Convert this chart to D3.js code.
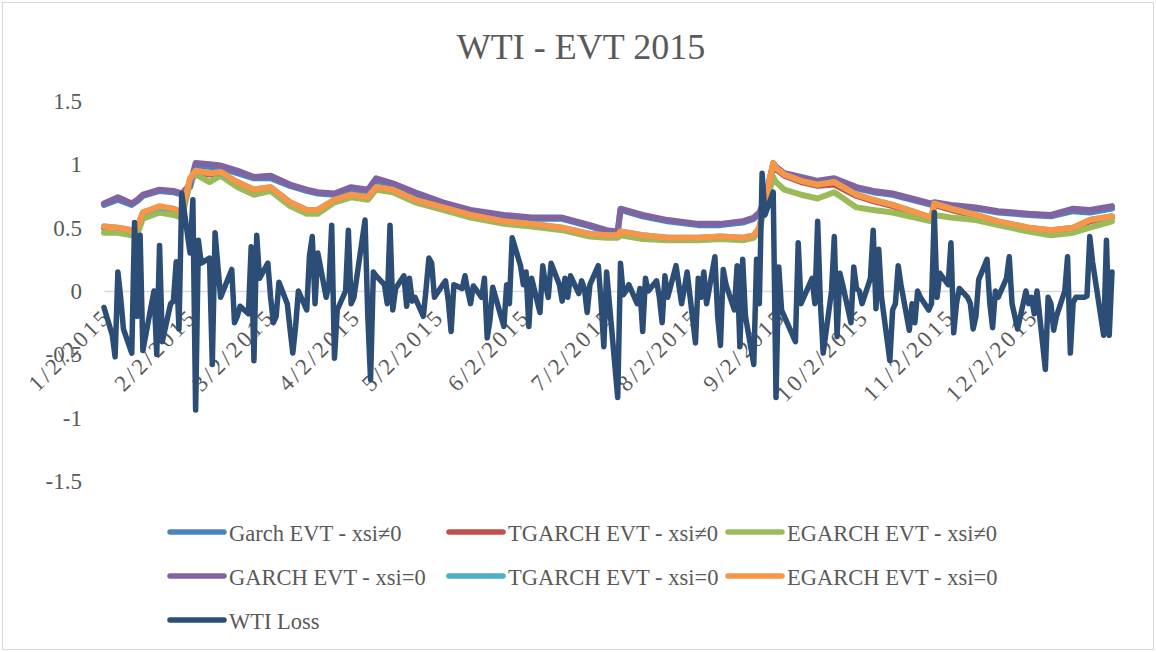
<!DOCTYPE html>
<html>
<head>
	<meta charset="utf-8">
	<title>WTI - EVT 2015</title>
	<script src="https://cdn.jsdelivr.net/npm/d3@7"></script>
	<style>
		body { margin: 0; background: #fff; }
		text { font-family: "Liberation Serif", "DejaVu Serif", serif; fill: #595959; }
	</style>
</head>
<body>
<script>
	// trading calendar 2015 (NYMEX holidays removed)
	var holidays = ["2015-01-19", "2015-02-16", "2015-04-03", "2015-05-25",
		"2015-07-03", "2015-09-07", "2015-11-26", "2015-12-25"];

	var xTickLabels = ["1/2/2015", "2/2/2015", "3/2/2015", "4/2/2015", "5/2/2015", "6/2/2015",
		"7/2/2015", "8/2/2015", "9/2/2015", "10/2/2015", "11/2/2015", "12/2/2015"];
	var yTicks = [-1.5, -1, -0.5, 0, 0.5, 1, 1.5];

	// daily WTI loss, one row per month
	var wtiLoss = [
		-0.13, -0.35, -0.52, 0.15, -0.05, -0.30, -0.49, 0.54, -0.20, 0.44, -0.47, 0.00, -0.50, 0.36, -0.40, -0.10, -0.08, 0.23, -0.30, 0.77,
		0.30, 0.72, -0.94, 0.40, 0.22, 0.26, -0.58, 0.46, 0.20, -0.05, 0.17, -0.25, -0.20, -0.12, -0.18, 0.35, -0.55, 0.44, 0.10,
		0.22, -0.05, -0.25, -0.20, 0.07, -0.10, -0.30, -0.49, -0.28, 0.00, -0.15, 0.28, 0.43, -0.10, 0.30, -0.05, 0.05, 0.52, -0.53, -0.15, 0.00, 0.48,
		-0.10, -0.05, 0.56, -0.20, -0.70, 0.15, 0.12, 0.05, -0.10, 0.52, -0.15, 0.02, 0.12, -0.12, 0.10, -0.08, -0.05, -0.20, 0.02, 0.26, 0.22,
		-0.05, 0.05, 0.08, -0.08, -0.32, 0.05, 0.02, 0.12, 0.00, -0.10, 0.04, -0.05, 0.10, -0.37, -0.23, 0.03, -0.28, 0.05, -0.10, 0.42,
		0.20, 0.05, 0.15, -0.28, 0.10, -0.17, 0.20, 0.05, -0.05, 0.22, 0.05, -0.08, 0.10, -0.05, 0.12, -0.02, 0.08, 0.02, -0.17, 0.05, 0.20, -0.08,
		-0.44, 0.15, -0.84, 0.22, -0.03, 0.00, 0.05, -0.10, 0.02, -0.32, 0.10, 0.00, 0.08, -0.05, -0.25, 0.12, -0.05, 0.20, 0.05, -0.10, 0.02, 0.15,
		-0.41, 0.10, -0.05, 0.15, -0.10, 0.27, -0.20, -0.43, 0.17, 0.05, -0.15, 0.20, -0.44, 0.25, -0.20, -0.58, 0.25, -0.10, 0.93, 0.60, 0.78,
		-0.84, 0.19, -0.15, -0.20, -0.40, 0.38, -0.10, -0.05, 0.10, -0.10, 0.55, -0.10, -0.49, 0.00, 0.43, -0.36, 0.14, 0.05, -0.25, 0.19, 0.02,
		0.00, -0.10, 0.10, 0.48, -0.14, 0.33, -0.05, -0.55, -0.15, -0.10, 0.20, 0.05, -0.31, -0.10, -0.25, 0.00, -0.05, -0.15, -0.10, 0.62, -0.05, 0.14,
		0.05, 0.38, -0.33, -0.10, 0.02, -0.05, -0.10, -0.30, -0.20, 0.09, 0.25, -0.10, -0.29, 0.00, -0.05, 0.10, 0.27, -0.10, -0.30, 0.00,
		-0.10, -0.05, -0.18, 0.00, -0.62, -0.05, -0.10, -0.31, -0.20, 0.00, 0.27, -0.49, -0.09, -0.05, -0.05, -0.04, 0.43, 0.23, -0.35, 0.40, -0.35, 0.15
	];

	// dates at which the VaR curves are read
	var varDates = [
		"2015-01-02", "2015-01-07", "2015-01-12", "2015-01-14", "2015-01-16", "2015-01-22", "2015-01-27", "2015-01-30",
		"2015-02-02", "2015-02-04", "2015-02-09", "2015-02-13", "2015-02-19", "2015-02-25",
		"2015-03-03", "2015-03-10", "2015-03-16", "2015-03-20", "2015-03-26",
		"2015-04-01", "2015-04-07", "2015-04-10", "2015-04-16", "2015-04-24",
		"2015-05-04", "2015-05-14", "2015-05-26",
		"2015-06-05", "2015-06-16", "2015-06-26",
		"2015-07-02", "2015-07-06", "2015-07-07", "2015-07-15", "2015-07-24",
		"2015-08-04", "2015-08-12", "2015-08-20", "2015-08-24", "2015-08-26", "2015-08-28", "2015-08-31",
		"2015-09-01", "2015-09-04", "2015-09-10", "2015-09-16", "2015-09-22", "2015-09-30",
		"2015-10-06", "2015-10-13", "2015-10-27", "2015-10-28",
		"2015-11-03", "2015-11-12", "2015-11-20",
		"2015-12-01", "2015-12-09", "2015-12-17", "2015-12-23", "2015-12-31"
	];

	var garchXsi = [0.68, 0.72, 0.68, 0.71, 0.75, 0.79, 0.78, 0.76, 0.82, 0.99, 0.98, 0.97, 0.93, 0.89,
		0.89, 0.83, 0.79, 0.77, 0.76, 0.80, 0.79, 0.87, 0.84, 0.77, 0.69, 0.63, 0.59, 0.57, 0.57, 0.51,
		0.47, 0.46, 0.64, 0.59, 0.55, 0.52, 0.52, 0.54, 0.57, 0.61, 0.71, 0.99,
		0.97, 0.92, 0.89, 0.86, 0.87, 0.81, 0.78, 0.76, 0.68, 0.69, 0.67, 0.65, 0.62, 0.60, 0.59, 0.63, 0.62, 0.65];
	var tgarchXsi = [0.50, 0.49, 0.47, 0.49, 0.61, 0.66, 0.64, 0.61, 0.87, 0.94, 0.92, 0.92, 0.85, 0.79,
		0.81, 0.69, 0.63, 0.63, 0.71, 0.75, 0.73, 0.81, 0.79, 0.71, 0.65, 0.59, 0.54, 0.52, 0.49, 0.44,
		0.43, 0.43, 0.46, 0.43, 0.41, 0.41, 0.42, 0.41, 0.43, 0.49, 0.69, 0.99,
		0.96, 0.91, 0.86, 0.83, 0.84, 0.75, 0.71, 0.67, 0.57, 0.68, 0.64, 0.59, 0.54, 0.49, 0.47, 0.49, 0.55, 0.58];
	var egarchXsi = [0.46, 0.46, 0.44, 0.45, 0.57, 0.62, 0.60, 0.58, 0.86, 0.92, 0.86, 0.91, 0.82, 0.76,
		0.79, 0.67, 0.61, 0.61, 0.70, 0.74, 0.72, 0.80, 0.78, 0.70, 0.64, 0.58, 0.53, 0.51, 0.48, 0.43,
		0.42, 0.42, 0.44, 0.41, 0.40, 0.40, 0.41, 0.40, 0.42, 0.48, 0.66, 0.90,
		0.86, 0.80, 0.76, 0.73, 0.78, 0.66, 0.64, 0.62, 0.55, 0.60, 0.58, 0.56, 0.52, 0.47, 0.44, 0.46, 0.50, 0.55];
	var garchZero = [0.69, 0.74, 0.69, 0.72, 0.76, 0.80, 0.79, 0.77, 0.84, 1.01, 1.00, 0.99, 0.95, 0.90,
		0.91, 0.84, 0.80, 0.78, 0.77, 0.82, 0.80, 0.89, 0.85, 0.78, 0.70, 0.64, 0.60, 0.58, 0.58, 0.52,
		0.48, 0.47, 0.65, 0.60, 0.56, 0.53, 0.53, 0.55, 0.58, 0.62, 0.72, 1.01,
		0.98, 0.93, 0.90, 0.87, 0.89, 0.82, 0.79, 0.77, 0.69, 0.70, 0.68, 0.66, 0.63, 0.61, 0.60, 0.65, 0.64, 0.67];
	var tgarchZero = [0.51, 0.50, 0.48, 0.50, 0.62, 0.66, 0.65, 0.62, 0.88, 0.95, 0.93, 0.93, 0.86, 0.80,
		0.82, 0.70, 0.64, 0.64, 0.72, 0.76, 0.74, 0.82, 0.80, 0.72, 0.66, 0.60, 0.55, 0.53, 0.50, 0.45,
		0.44, 0.44, 0.47, 0.44, 0.42, 0.42, 0.43, 0.42, 0.44, 0.50, 0.70, 1.00,
		0.97, 0.92, 0.87, 0.84, 0.86, 0.76, 0.72, 0.68, 0.58, 0.69, 0.65, 0.60, 0.55, 0.50, 0.48, 0.50, 0.56, 0.59];
	var egarchZero = [0.51, 0.50, 0.48, 0.50, 0.62, 0.67, 0.65, 0.62, 0.89, 0.95, 0.93, 0.94, 0.86, 0.80,
		0.82, 0.70, 0.64, 0.64, 0.72, 0.76, 0.74, 0.82, 0.80, 0.72, 0.66, 0.60, 0.55, 0.53, 0.50, 0.45,
		0.44, 0.44, 0.47, 0.44, 0.42, 0.42, 0.43, 0.42, 0.44, 0.50, 0.70, 1.01,
		0.97, 0.92, 0.87, 0.84, 0.86, 0.76, 0.72, 0.68, 0.58, 0.69, 0.65, 0.60, 0.55, 0.50, 0.48, 0.50, 0.56, 0.59];

	var seriesNames = ["Garch EVT - xsi≠0", "TGARCH EVT - xsi≠0", "EGARCH EVT - xsi≠0",
		"GARCH EVT - xsi=0", "TGARCH EVT - xsi=0", "EGARCH EVT - xsi=0", "WTI Loss"];
	var seriesColors = ["#4f81bd", "#c0504d", "#9bbb59", "#8064a2", "#4bacc6", "#f79646", "#2c4d75"];

	var svgWidth = 1156, svgHeight = 652;
	var parse = d3.timeParse("%Y-%m-%d"),
		fmt = d3.timeFormat("%Y-%m-%d");

	var tradingDays = d3.timeDay.range(new Date(2015, 0, 2), new Date(2016, 0, 1))
		.filter(function(d) { return d.getDay() % 6 !== 0 && holidays.indexOf(fmt(d)) < 0; });

	var vDates = varDates.map(parse);
	var series = [garchXsi, tgarchXsi, egarchXsi, garchZero, tgarchZero, egarchZero].map(function(vals) {
		return vals.map(function(v, i) { return {date: vDates[i], value: v}; });
	});
	series.push(wtiLoss.map(function(v, i) { return {date: tradingDays[i], value: v}; })
		.filter(function(d) { return d.date; }));

	var svg = d3.select("body").append("svg")
		.attr("width", svgWidth)
		.attr("height", svgHeight);

	// chart border
	svg.append("rect")
		.attr("x", 2.5).attr("y", 2.5)
		.attr("width", svgWidth - 5).attr("height", svgHeight - 5)
		.attr("fill", "none").attr("stroke", "#d9d9d9").attr("stroke-width", 1);

	var x = d3.scaleTime()
		.domain([new Date(2015, 0, 2), new Date(2015, 11, 31)])
		.range([104, 1112]);
	var y = d3.scaleLinear().domain([-1.5, 1.5]).range([481, 101]);

	svg.append("text")
		.attr("x", 581).attr("y", 59)
		.attr("text-anchor", "middle")
		.style("font-size", "36px")
		.text("WTI - EVT 2015");

	// y axis labels, no line
	var yAxis = svg.append("g")
		.attr("transform", "translate(104,0)")
		.call(d3.axisLeft(y).tickValues(yTicks).tickSize(0).tickPadding(22)
			.tickFormat(function(d) { return String(d); }));
	yAxis.select(".domain").remove();
	yAxis.selectAll("text").style("font-size", "23px").attr("fill", "#595959");

	// x axis crosses at zero
	var tickDates = xTickLabels.map(d3.timeParse("%m/%d/%Y"));
	var xAxis = svg.append("g")
		.attr("transform", "translate(0," + y(0) + ")")
		.call(d3.axisBottom(x).tickValues(tickDates).tickSize(0)
			.tickFormat(function(d, i) { return xTickLabels[i]; }));
	xAxis.select(".domain").attr("stroke", "#d9d9d9").attr("stroke-width", 1.5);
	xAxis.selectAll("text")
		.attr("x", 0).attr("y", 0).attr("dy", 0)
		.attr("text-anchor", "end")
		.attr("transform", "translate(8,27) rotate(-45)")
		.style("font-size", "23px")
		.style("letter-spacing", "3px")
		.attr("fill", "#595959");

	var line = d3.line()
		.x(function(d) { return x(d.date); })
		.y(function(d) { return y(d.value); });

	var plot = svg.append("g");
	plot.selectAll("path")
		.data(series)
		.enter()
		.append("path")
		.attr("d", line)
		.attr("fill", "none")
		.attr("stroke", function(d, i) { return seriesColors[i]; })
		.attr("stroke-width", function(d, i) { return i === 6 ? 5.5 : 6; })
		.attr("stroke-linejoin", "round")
		.attr("stroke-linecap", "round");

	// legend, three per row
	var legend = svg.append("g");
	var item = legend.selectAll("g")
		.data(seriesNames)
		.enter()
		.append("g")
		.attr("transform", function(d, i) {
			return "translate(" + (170 + (i % 3) * 279) + "," + (532 + Math.floor(i / 3) * 44) + ")";
		});
	item.append("line")
		.attr("x1", 0).attr("x2", 54)
		.attr("stroke", function(d, i) { return seriesColors[i]; })
		.attr("stroke-width", 5.5)
		.attr("stroke-linecap", "round");
	item.append("text")
		.attr("x", 59).attr("y", 9)
		.style("font-size", "22.5px")
		.text(function(d) { return d; });
</script>
</body>
</html>
